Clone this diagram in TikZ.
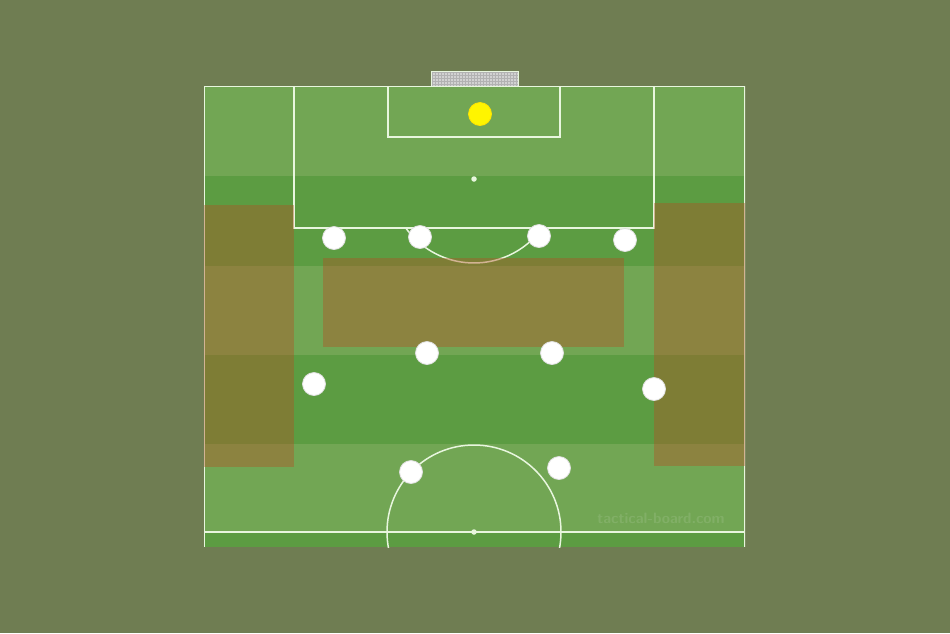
\documentclass[tikz,border=0pt]{standalone}
\usetikzlibrary{positioning}
\definecolor{bg}{RGB}{111,125,82}
\definecolor{lightturf}{RGB}{114,166,84}
\definecolor{darkturf}{RGB}{92,156,66}
\definecolor{zonebrown}{RGB}{179,80,35}
\definecolor{chalk}{RGB}{232,246,222}
\definecolor{keeper}{RGB}{255,245,0}
\tikzset{
board/.style={x=1pt,y=-1pt},
chalkline/.style={draw=chalk,line width=1.5pt},
zonebox/.style={fill=zonebrown,fill opacity=0.4},
player/.style={circle,draw=gray!25,line width=0.8pt,fill=white,minimum size=23pt,inner sep=0pt},
goalie/.style={player,fill=keeper,draw=keeper!85!orange},
spot/.style={circle,fill=chalk,inner sep=0pt,minimum size=5.5pt},
}

\begin{document}
\begin{tikzpicture}[board]

    \useasboundingbox[fill=bg] (0,0) rectangle (950,633);

    % turf stripes
    \foreach \top/\bot/\c in {86/176/lightturf,176/266/darkturf,266/355/lightturf,
        355/444/darkturf,444/532/lightturf,532/547/darkturf}
        \fill[\c] (204,\top) rectangle (745,\bot);

    \node[text=lightturf!80!white,opacity=0.55,font=\fontsize{15}{15}\sffamily\bfseries]
        (mark) at (661,518) {tactical-board.com};

    % goal
    \fill[gray!35] (431,71) rectangle (518,86);
    \draw[gray!60,line width=0.3pt,step=3pt] (431,71) grid (518,86);
    \draw[chalkline,line width=1pt] (431,86) -- (431,71) -- (518,71) -- (518,86);

    % markings
    \begin{scope}
        \clip (204,86) rectangle (745,547);
        \draw[chalkline] (204,547) -- (204,86) -- (745,86) -- (745,547);
        \draw[chalkline] (204,532) -- (745,532);
        \draw[chalkline] (294,86) rectangle (654,228);
        \draw[chalkline] (388,86) rectangle (560,137);
        \draw[chalkline] (474,179) ++(35.7:84) arc[start angle=35.7,end angle=144.3,radius=84];
        \draw[chalkline] (474,532) circle[radius=87];
    \end{scope}
    \node[spot] (pen) at (474,179) {};
    \node[spot] (kickoff) at (474,532) {};

    % zones
    \fill[zonebox] (204,205) rectangle (294,467);
    \fill[zonebox] (654,203) rectangle (745,466);
    \fill[zonebox] (323,258) rectangle (624,347);

    % players
    \node[goalie] (gk) at (480,114) {};
    \node[player] (lb) at (334,238) {};
    \node[player] (lcb) at (420,237) {};
    \node[player] (rcb) at (539,236) {};
    \node[player] (rb) at (625,240) {};
    \node[player] (lcm) at (427,353) {};
    \node[player] (rcm) at (552,353) {};
    \node[player] (lw) at (314,384) {};
    \node[player] (rw) at (654,389) {};
    \node[player] (ls) at (411,472) {};
    \node[player] (rs) at (559,468) {};
\end{tikzpicture}
\end{document}
